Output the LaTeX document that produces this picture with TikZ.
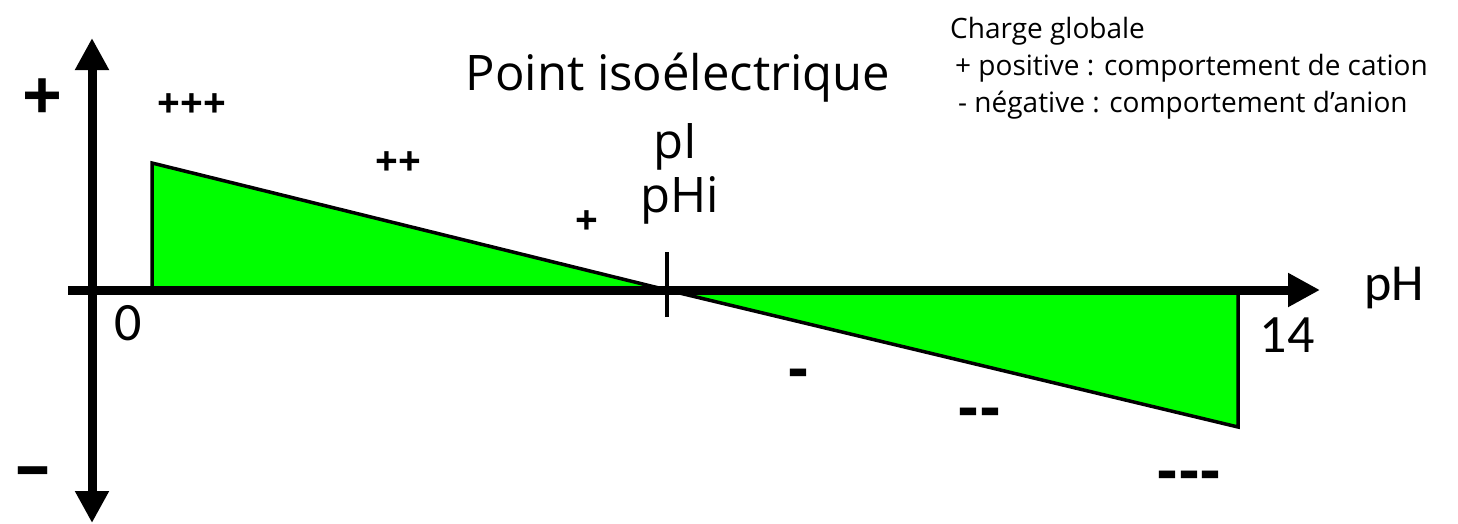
\documentclass[tikz,border=0pt]{standalone}
\usepackage{fontspec}
\setmainfont{Open Sans}
\newfontfamily\calfont{Carlito}
\usetikzlibrary{arrows.meta,positioning}
\definecolor{chargegreen}{HTML}{00FF00}

\begin{document}
\begin{tikzpicture}[x=1pt,y=-1pt,
  axis/.style={line width=9pt},
  zone/.style={draw=black, line width=3.5pt, fill=chargegreen, line join=miter},
  sign/.style={font=\fontsize{40}{40}\selectfont\bfseries, inner sep=0pt},
  dashsign/.style={font=\fontsize{62}{62}\selectfont\bfseries, inner sep=0pt},
  bigsign/.style={font=\fontsize{70}{70}\selectfont\bfseries, inner sep=0pt},
  label/.style={font=\fontsize{49}{49}\selectfont, inner sep=0pt, anchor=base},
  num/.style={font=\calfont\fontsize{54}{54}\selectfont, inner sep=0pt, anchor=base},
  legend/.style={font=\fontsize{28}{28}\selectfont, inner sep=0pt, anchor=base west}]
  \useasboundingbox (0,0) rectangle (1458,523);

  % key points of the axes
  \coordinate (origin) at (92,290);
  \coordinate (ytop) at (92,38);
  \coordinate (ybot) at (92,523);
  \coordinate (xleft) at (68,290);
  \coordinate (xright) at (1320,290);
  \coordinate (isopt) at (667,290);
  \coordinate (ph0) at (152,290);
  \coordinate (ph14) at (1238,290);

  % charge areas
  \draw[zone] (ph0) -- (152,163) -- (isopt) -- cycle;
  \draw[zone] (isopt) -- (ph14) -- (1238,427) -- cycle;

  % axes
  \draw[axis, {Triangle[length=32pt,width=32pt]}-{Triangle[length=32pt,width=32pt]}] (ytop) -- (ybot);
  \draw[axis, -{Triangle[length=32pt,width=32pt]}] (xleft) -- (xright);
  \draw[line width=3.5pt] ([yshift=-27pt]isopt) -- ([yshift=38pt]isopt);

  % signs
  \node[bigsign] (plusaxis) at (42,100) {+};
  \node[bigsign] (minusaxis) at (33,478) {\textendash};
  \node[sign] (ppp) at (192,106) {+\kern0pt+\kern0pt+};
  \node[sign] (pp) at (398,164) {+\kern0pt+};
  \node[sign] (p) at (587,223) {+};
  \node[dashsign] (m) at (798,379) {-};
  \node[dashsign] (mm) at (979,418) {-\kern2pt-};
  \node[dashsign] (mmm) at (1189,481) {-\kern2pt-\kern2pt-};

  % texts
  \node[label] (title) at (678,90) {Point isoélectrique};
  \node[label] (pI) at (675,158) {pI};
  \node[label] (pHi) at (680,212) {pHi};
  \node[num] (zero) at (128,340) {0};
  \node[num] (fourteen) at (1287,352) {14};
  \node[num, font=\calfont\fontsize{52}{52}\selectfont] (phaxis) at (1394,300) {pH};

  % legend
  \node[legend] (leg1) at (950,38) {Charge globale};
  \node[legend] (leg2) at (955,75) {+ positive : comportement de cation};
  \node[legend] (leg3) at (958,112) {- négative : comportement d’anion};
\end{tikzpicture}
\end{document}
